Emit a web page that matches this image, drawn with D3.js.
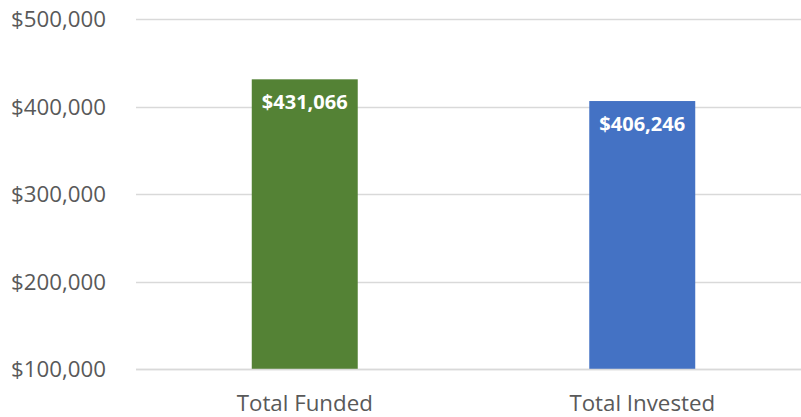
<!DOCTYPE html>
<html>
<head>
<meta charset="utf-8">
<script src="https://cdn.jsdelivr.net/npm/d3@7"></script>
<style>
  body { margin: 0; background: #fff; }
  svg text { font-family: "Open Sans", sans-serif; }
</style>
</head>
<body>
<svg id="chart"></svg>
<script>
const categories = ['Total Funded', 'Total Invested'];
const amounts = [431066, 406246];
const barColors = ['#548235', '#4472C4'];
const yTicks = [100000, 200000, 300000, 400000, 500000];

const width = 801, height = 417;
const margin = { top: 19, right: 0, bottom: 48, left: 136 };

const svg = d3.select('#chart')
    .attr('width', width)
    .attr('height', height);

const xScale = d3.scaleBand()
    .domain(categories)
    .range([margin.left, margin.left + 675])
    .paddingInner(0.686)
    .paddingOuter(0.343);

const yScale = d3.scaleLinear()
    .domain([100000, 500000])
    .range([height - margin.bottom, margin.top]);

const fmt = d => '$' + d3.format(',')(d);

// gridlines
svg.append('g')
    .selectAll('line')
    .data(yTicks)
    .join('line')
    .attr('x1', margin.left)
    .attr('x2', width)
    .attr('y1', d => Math.round(yScale(d)) + 0.5)
    .attr('y2', d => Math.round(yScale(d)) + 0.5)
    .attr('stroke', '#d9d9d9')
    .attr('stroke-width', 1.5);

// y tick labels
svg.append('g')
    .selectAll('text')
    .data(yTicks)
    .join('text')
    .attr('x', 106)
    .attr('y', d => yScale(d))
    .attr('dy', '0.36em')
    .attr('text-anchor', 'end')
    .attr('fill', '#595959')
    .attr('font-size', 22.3)
    .text(fmt);

// bars
svg.append('g')
    .selectAll('rect')
    .data(amounts)
    .join('rect')
    .attr('x', (d, i) => xScale(categories[i]))
    .attr('width', xScale.bandwidth())
    .attr('y', d => yScale(d))
    .attr('height', d => yScale(100000) - yScale(d))
    .attr('fill', (d, i) => barColors[i]);

// baseline over bars
svg.append('line')
    .attr('x1', margin.left)
    .attr('x2', width)
    .attr('y1', Math.round(yScale(100000)) + 0.5)
    .attr('y2', Math.round(yScale(100000)) + 0.5)
    .attr('stroke', '#d9d9d9')
    .attr('stroke-width', 1.5);

// value labels
svg.append('g')
    .selectAll('text')
    .data(amounts)
    .join('text')
    .attr('x', (d, i) => xScale(categories[i]) + xScale.bandwidth() / 2)
    .attr('y', d => yScale(d) + 30)
    .attr('text-anchor', 'middle')
    .attr('fill', '#fff')
    .attr('font-weight', 'bold')
    .attr('font-size', 20)
    .text(fmt);

// category labels
svg.append('g')
    .selectAll('text')
    .data(categories)
    .join('text')
    .attr('x', d => xScale(d) + xScale.bandwidth() / 2)
    .attr('y', 411)
    .attr('text-anchor', 'middle')
    .attr('fill', '#595959')
    .attr('font-size', 22.3)
    .text(d => d);
</script>
</body>
</html>
